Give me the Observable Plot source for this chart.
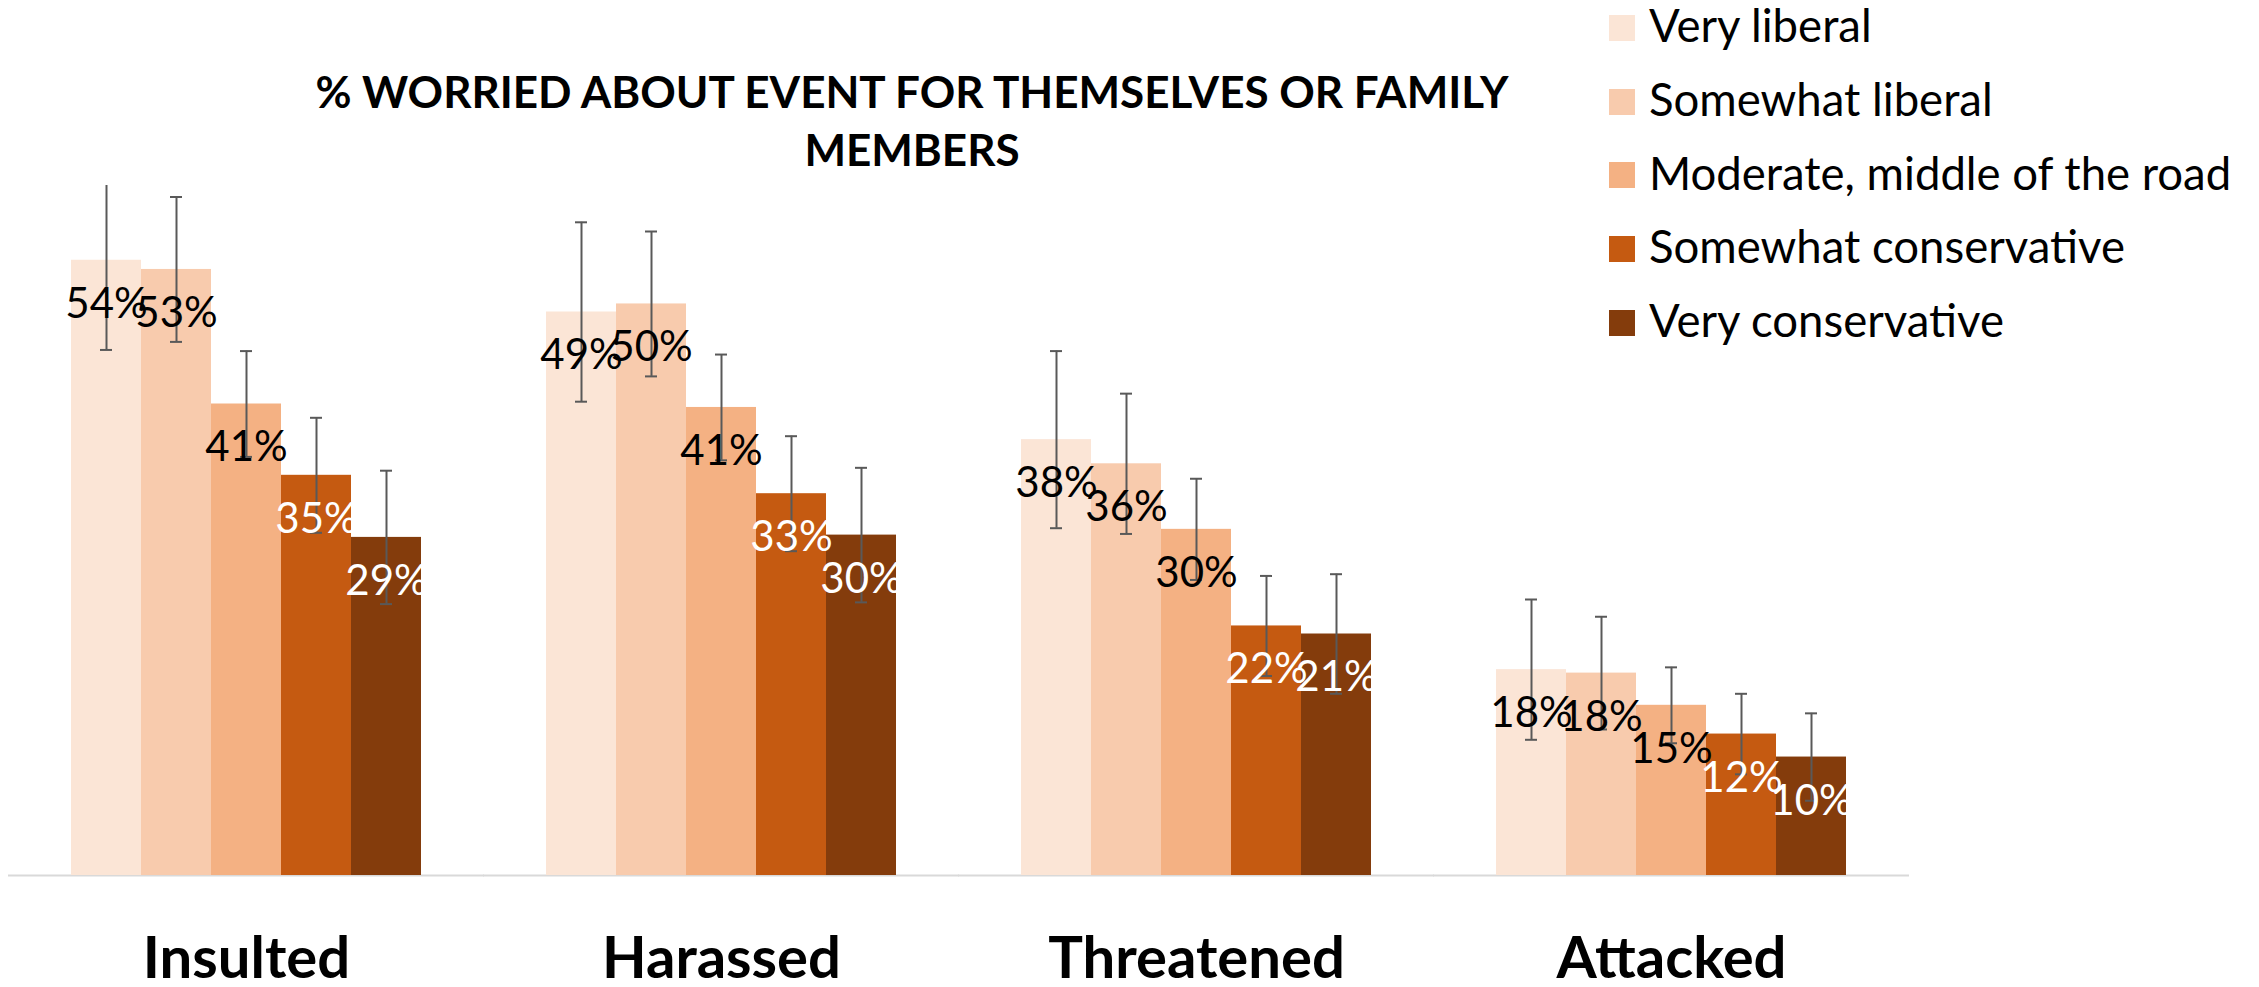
<!DOCTYPE html>
<html>
<head>
<meta charset="utf-8">
<script src="https://cdn.jsdelivr.net/npm/d3@7"></script>
<script src="https://cdn.jsdelivr.net/npm/@observablehq/plot@0.6"></script>
<style>
  html, body { margin: 0; padding: 0; background: #fff; }
  #wrap { position: relative; width: 2259px; height: 987px; overflow: hidden; font-family: Lato, sans-serif; }
  #title { position: absolute; left: 0; top: 62px; width: 1824px; text-align: center;
           font: bold 44px/58px Lato, sans-serif; color: #000; }
  #legend { position: absolute; left: 1609px; top: -12px; }
  .row { display: flex; align-items: center; height: 73.7px; }
  .sw { width: 26px; height: 26px; flex: none; position: relative; top: 3px; }
  .lab { margin-left: 14px; font: 45.5px Lato, sans-serif; color: #000; white-space: nowrap; }
  #chart { position: absolute; left: 0; top: 0; }
</style>
</head>
<body>
<div id="wrap">
  <div id="chart"></div>
  <div id="title">% WORRIED ABOUT EVENT FOR THEMSELVES OR FAMILY<br>MEMBERS</div>
  <div id="legend"></div>
</div>
<script>
// Categories and series
const events = ["Insulted", "Harassed", "Threatened", "Attacked"];
const series = ["Very liberal", "Somewhat liberal", "Moderate, middle of the road", "Somewhat conservative", "Very conservative"];
const colors = ["#FBE5D6", "#F8CBAD", "#F4B183", "#C55A11", "#843C0C"];

// Values (%) per event, in series order
const insulted   = [53.5, 52.7, 41.0, 34.8, 29.4];
const harassed   = [49.0, 49.7, 40.7, 33.2, 29.6];
const threatened = [37.9, 35.8, 30.1, 21.7, 21.0];
const attacked   = [17.9, 17.6, 14.8, 12.3, 10.3];

// Error bar half-widths (percentage points)
const errInsulted   = [7.8, 6.3, 4.6, 5.0, 5.8];
const errHarassed   = [7.8, 6.3, 4.6, 5.0, 5.85];
const errThreatened = [7.7, 6.1, 4.4, 4.35, 5.2];
const errAttacked   = [6.1, 4.9, 3.3, 3.5, 3.8];

const yMax = 60;

const valueSets = [insulted, harassed, threatened, attacked];
const errSets = [errInsulted, errHarassed, errThreatened, errAttacked];

const rows = [];
events.forEach((ev, i) => {
  series.forEach((s, j) => {
    const v = valueSets[i][j], e = errSets[i][j];
    rows.push({event: ev, series: s, idx: j, value: v, lo: v - e, hi: v + e, label: Math.round(v) + "%"});
  });
});

const chart = Plot.plot({
  width: 2259,
  height: 987,
  marginLeft: 8,
  marginRight: 350,
  marginTop: 185,
  marginBottom: 112,
  style: {fontFamily: "Lato, sans-serif", background: "transparent", color: "#000"},
  fx: {domain: events, paddingInner: 0.2636, paddingOuter: 0.1318, label: null},
  x: {domain: series, padding: 0, axis: null},
  y: {domain: [0, yMax], axis: null},
  color: {domain: series, range: colors},
  marks: [
    Plot.ruleY([0], {stroke: "#d9d9d9", strokeWidth: 2, insetLeft: -63, insetRight: -63}),
    Plot.barY(rows, {fx: "event", x: "series", y: "value", fill: "series"}),
    Plot.ruleX(rows, {fx: "event", x: "series", y1: "lo", y2: "hi", stroke: "#595959", strokeWidth: 2, clip: true}),
    Plot.tickY(rows, {fx: "event", x: "series", y: "hi", stroke: "#595959", strokeWidth: 2, insetLeft: 29, insetRight: 29, clip: true}),
    Plot.tickY(rows, {fx: "event", x: "series", y: "lo", stroke: "#595959", strokeWidth: 2, insetLeft: 29, insetRight: 29, clip: true}),
    Plot.text(rows, {filter: d => d.idx < 3, fx: "event", x: "series", y: "value", text: "label", dy: 44, fill: "#000", fontSize: 42}),
    Plot.text(rows, {filter: d => d.idx >= 3, fx: "event", x: "series", y: "value", text: "label", dy: 44, fill: "#fff", fontSize: 42}),
    Plot.axisFx({anchor: "bottom", tickSize: 0, tickPadding: 61, fontSize: 58, fontWeight: "bold", label: null})
  ]
});
document.getElementById("chart").appendChild(chart);

// Legend
const legend = document.getElementById("legend");
series.forEach((s, i) => {
  const row = document.createElement("div");
  row.className = "row";
  const sw = document.createElement("div");
  sw.className = "sw";
  sw.style.background = colors[i];
  const lab = document.createElement("span");
  lab.className = "lab";
  lab.textContent = s;
  row.appendChild(sw);
  row.appendChild(lab);
  legend.appendChild(row);
});
</script>
</body>
</html>
